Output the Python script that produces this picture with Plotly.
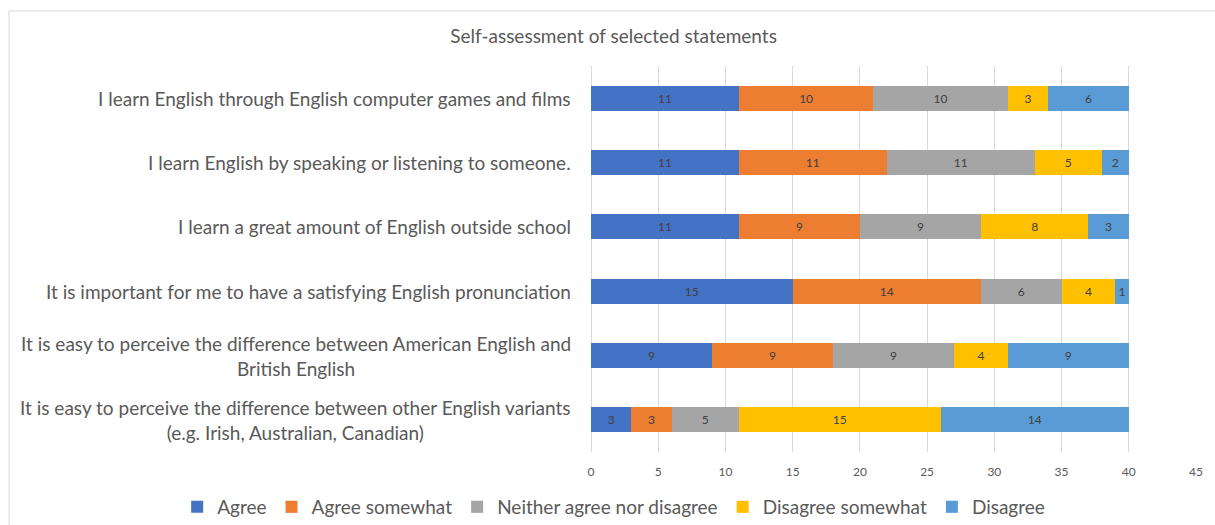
import plotly.graph_objects as go

categories = [
    "I learn English through English computer games and films",
    "I learn English by speaking or listening to someone.",
    "I learn a great amount of English outside school",
    "It is important for me to have a satisfying English pronunciation",
    "It is easy to perceive the difference between American English and<br>British English",
    "It is easy to perceive the difference between other English variants<br>(e.g. Irish, Australian, Canadian)",
]

series_names = ["Agree", "Agree somewhat", "Neither agree nor disagree", "Disagree somewhat", "Disagree"]
agree = [11, 11, 11, 15, 9, 3]
agree_somewhat = [10, 11, 9, 14, 9, 3]
neither = [10, 11, 9, 6, 9, 5]
disagree_somewhat = [3, 5, 8, 4, 4, 15]
disagree = [6, 2, 3, 1, 9, 14]
series_values = [agree, agree_somewhat, neither, disagree_somewhat, disagree]
colors = ["#4472C4", "#ED7D31", "#A5A5A5", "#FFC000", "#5B9BD5"]

x_ticks = [0, 5, 10, 15, 20, 25, 30, 35, 40, 45]

FONT = "Lato"
TXT = "#595959"

fig = go.Figure()
for name, vals, col in zip(series_names, series_values, colors):
    fig.add_trace(go.Bar(
        y=categories, x=vals, name=name, orientation="h",
        marker=dict(color=col, line=dict(width=0)),
        text=vals, textposition="inside", insidetextanchor="middle",
        textangle=0, constraintext="none",
        textfont=dict(family=FONT, size=12, color="#404040"),
    ))

annotations = []
for c in categories:
    annotations.append(dict(
        x=0, xref="paper", y=c, yref="y", text=c, showarrow=False,
        xanchor="right", yanchor="middle", align="center", xshift=-18,
        font=dict(family=FONT, size=19, color=TXT),
    ))

shapes = [
    dict(type="line", xref="paper", yref="paper", x0=-0.962, x1=1.2, y0=1.1425, y1=1.1425,
         line=dict(color="#d9d9d9", width=1)),
    dict(type="line", xref="paper", yref="paper", x0=-0.962, x1=-0.962, y0=1.1425, y1=-0.4,
         line=dict(color="#d9d9d9", width=1)),
]

fig.update_layout(
    width=1215, height=525,
    barmode="stack", bargap=0.61,
    margin=dict(l=591, r=19, t=66, b=73, autoexpand=False),
    plot_bgcolor="white", paper_bgcolor="white",
    font=dict(family=FONT, color=TXT),
    title=dict(text="Self-assessment of selected statements", x=0.505, xref="container",
               xanchor="center", y=1 - 36 / 525, yref="container", yanchor="middle",
               font=dict(family=FONT, size=19, color=TXT)),
    xaxis=dict(range=[0, 45], tickvals=x_ticks, showgrid=True, gridcolor="#d9d9d9", gridwidth=1,
               zeroline=True, zerolinecolor="#d9d9d9", zerolinewidth=1, showline=False,
               tickfont=dict(family=FONT, size=12, color=TXT), ticks="", ticklabelstandoff=11),
    yaxis=dict(showticklabels=False, showgrid=False, autorange="reversed", type="category"),
    legend=dict(orientation="h", xref="paper", x=-0.684, xanchor="left",
                yref="paper", y=-0.1425, yanchor="middle",
                font=dict(family=FONT, size=19, color=TXT), traceorder="normal"),
    annotations=annotations,
    shapes=shapes,
)

fig.write_html("out.html")
